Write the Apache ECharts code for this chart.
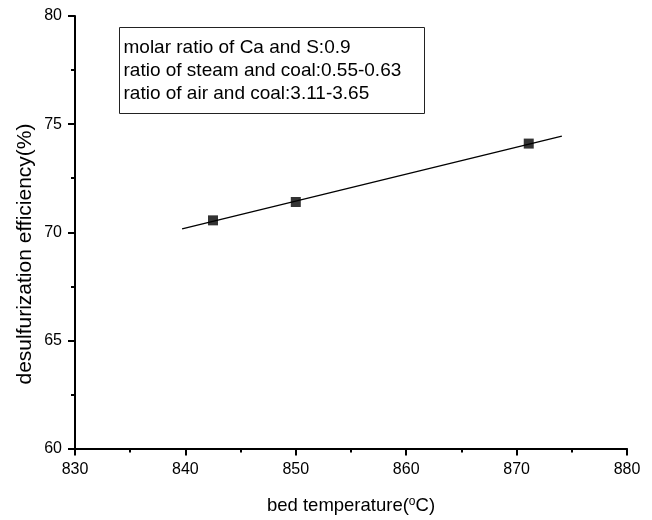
<!DOCTYPE html>
<html>
<head>
<meta charset="utf-8">
<script src="https://cdn.jsdelivr.net/npm/echarts@6/dist/echarts.min.js"></script>
<style>html,body{margin:0;padding:0;background:#fff;}#c{width:652px;height:520px;}</style>
</head>
<body>
<div id="c"></div>
<script>
var bedTemp = [842.5, 850.0, 871.1];
var efficiency = [70.55, 71.4, 74.1];
var fitTemp = [839.7, 874.1];
var fitEff = [70.16, 74.44];
var xTicks = [830, 840, 850, 860, 870, 880];
var yTicks = [60, 65, 70, 75, 80];
var noteLines = ['molar ratio of Ca and S:0.9', 'ratio of steam and coal:0.55-0.63', 'ratio of air and coal:3.11-3.65'];
var yTitle = 'desulfurization efficiency(%)';

var chart = echarts.init(document.getElementById('c'));
var font = 'Liberation Sans, Arial, sans-serif';
chart.setOption({
  animation: false,
  backgroundColor: '#fff',
  grid: {left: 75, right: 25, top: 16, bottom: 71, containLabel: false},
  xAxis: {
    type: 'value', min: xTicks[0], max: xTicks[xTicks.length-1], interval: 10,
    name: 'bed temperature({sup|o}C)', nameLocation: 'middle', nameGap: 47,
    nameTextStyle: {color: '#000', fontSize: 18.5, fontFamily: font,
      rich: {sup: {fontSize: 12, fontFamily: font, color: '#000', padding: [0, 0, 8, 0]}}},
    axisLine: {show: true, lineStyle: {color: '#000', width: 2}},
    axisTick: {show: true, inside: false, length: 7, lineStyle: {color: '#000', width: 2}},
    minorTick: {show: true, splitNumber: 2, length: 4, lineStyle: {color: '#000', width: 2}},
    axisLabel: {color: '#000', fontSize: 16, fontFamily: font, margin: 13},
    splitLine: {show: false}
  },
  yAxis: {
    type: 'value', min: yTicks[0], max: yTicks[yTicks.length-1], interval: 5,
    axisLine: {show: true, lineStyle: {color: '#000', width: 2}},
    axisTick: {show: true, inside: false, length: 7, lineStyle: {color: '#000', width: 2}},
    minorTick: {show: true, splitNumber: 2, length: 4, lineStyle: {color: '#000', width: 2}},
    axisLabel: {color: '#000', fontSize: 16, fontFamily: font, margin: 13},
    splitLine: {show: false}
  },
  series: [
    {
      type: 'line', data: fitTemp.map(function(t, i){ return [t, fitEff[i]]; }),
      showSymbol: false, symbol: 'none', lineStyle: {color: '#000', width: 1.3}, silent: true
    },
    {
      type: 'scatter', data: bedTemp.map(function(t, i){ return [t, efficiency[i]]; }),
      symbol: 'rect', symbolSize: 10, itemStyle: {color: '#000'}
    }
  ],
  graphic: [
    {
      type: 'group', left: 119, top: 27,
      children: [
        {type: 'rect', shape: {x: 0, y: 0, width: 305, height: 86},
         style: {fill: '#fff', stroke: '#222', lineWidth: 1}},
        {type: 'text', x: 4, y: 9, style: {text: noteLines.join('\n'), font: '19px ' + font, fill: '#000', lineHeight: 23}}
      ]
    },
    {
      type: 'text', x: 25, y: 254, rotation: Math.PI / 2,
      style: {text: yTitle, font: '21px ' + font, fill: '#000', align: 'center', verticalAlign: 'middle'}
    }
  ]
});
</script>
</body>
</html>
